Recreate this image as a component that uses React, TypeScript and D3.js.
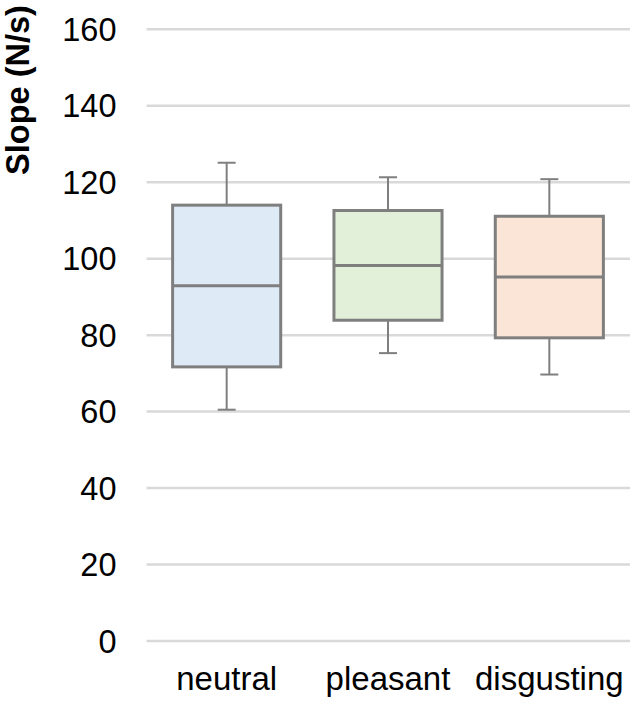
import React from "react";
import * as d3 from "d3";

const categories = ["neutral", "pleasant", "disgusting"];
const minValues = [60.5, 75.3, 69.7];
const q1Values = [71.7, 83.9, 79.3];
const medianValues = [92.9, 98.2, 95.2];
const q3Values = [114.0, 112.6, 111.1];
const maxValues = [125.1, 121.3, 120.8];
const fills = ["#deebf7", "#e2f0d9", "#fbe5d6"];
const yTicks = [0, 20, 40, 60, 80, 100, 120, 140, 160];
const yTitle = "Slope (N/s)";

const W = 631;
const H = 703;

export default function App() {
  const y = d3.scaleLinear().domain([0, 160]).range([641, 29.3]);
  const x = d3.scaleBand<string>().domain(categories).range([146, 630]).paddingInner(0).paddingOuter(0);
  const boxW = x.bandwidth() * 0.67;
  const capW = 18;
  const font = "'Liberation Sans', Arial, sans-serif";
  const stroke = "#7f7f7f";

  return (
    <svg width={W} height={H} style={{ position: "absolute", left: 0, top: 0, background: "#fff" }}>
      <rect x={0} y={0} width={W} height={H} fill="#fff" />
      {yTicks.map((t) => (
        <g key={t}>
          <line x1={146.5} x2={630} y1={y(t)} y2={y(t)} stroke="#d9d9d9" strokeWidth={2.5} />
          <text x={116.5} y={y(t)} dy="0.36em" textAnchor="end" fontFamily={font} fontSize={32.5} fill="#000">
            {t}
          </text>
        </g>
      ))}
      <text
        transform={`translate(29, 90) rotate(-90)`}
        textAnchor="middle"
        fontFamily={font}
        fontWeight="bold"
        fontSize={32.5}
        fill="#000"
      >
        {yTitle}
      </text>
      {categories.map((c, i) => {
        const cx = (x(c) as number) + x.bandwidth() / 2;
        return (
          <g key={c}>
            <line x1={cx} x2={cx} y1={y(maxValues[i])} y2={y(q3Values[i])} stroke={stroke} strokeWidth={2} />
            <line x1={cx} x2={cx} y1={y(q1Values[i])} y2={y(minValues[i])} stroke={stroke} strokeWidth={2} />
            <line x1={cx - capW / 2} x2={cx + capW / 2} y1={y(maxValues[i])} y2={y(maxValues[i])} stroke={stroke} strokeWidth={2} />
            <line x1={cx - capW / 2} x2={cx + capW / 2} y1={y(minValues[i])} y2={y(minValues[i])} stroke={stroke} strokeWidth={2} />
            <rect
              x={cx - boxW / 2}
              y={y(q3Values[i])}
              width={boxW}
              height={y(q1Values[i]) - y(q3Values[i])}
              fill={fills[i]}
              stroke={stroke}
              strokeWidth={3}
            />
            <line x1={cx - boxW / 2} x2={cx + boxW / 2} y1={y(medianValues[i])} y2={y(medianValues[i])} stroke={stroke} strokeWidth={3} />
            <text x={cx} y={690} textAnchor="middle" fontFamily={font} fontSize={33} fill="#000">
              {c}
            </text>
          </g>
        );
      })}
    </svg>
  );
}
